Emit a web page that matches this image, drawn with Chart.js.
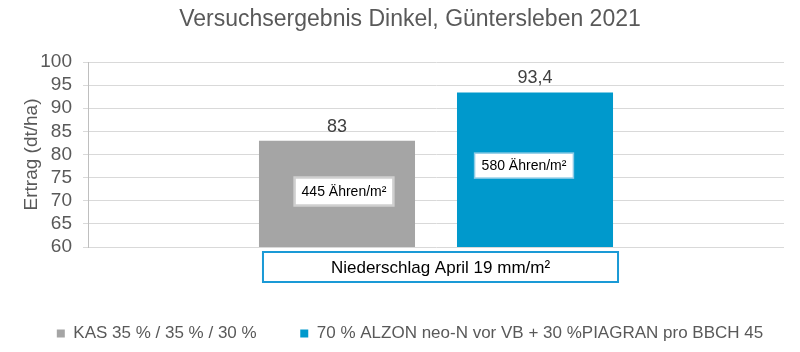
<!DOCTYPE html>
<html>
<head>
<meta charset="utf-8">
<script src="https://cdn.jsdelivr.net/npm/chart.js@4.4.0/dist/chart.umd.min.js"></script>
<style>
  html, body { margin: 0; padding: 0; background: #fff; }
  #wrap { width: 800px; height: 352px; }
</style>
</head>
<body>
<div id="wrap"><canvas id="yieldChart"></canvas></div>
<script>
// Chart data
const categories = [''];
const seriesNames = ['KAS 35 % / 35 % / 30 %', '70 % ALZON neo-N vor VB + 30 %PIAGRAN pro BBCH 45'];
const kasValues = [83];
const alzonValues = [93.4];
const valueLabels = ['83', '93,4'];
const earNotes = ['445 Ähren/m²', '580 Ähren/m²'];
const noteLevels = [72, 77.6];
const yTickValues = [60, 65, 70, 75, 80, 85, 90, 95, 100];
const rainNote = 'Niederschlag April 19 mm/m²';

const FONT = "'Liberation Sans', Arial, sans-serif";

// Draws value labels, ear count boxes and the rain note
const notesPlugin = {
    id: 'notes',
    afterDatasetsDraw(chart) {
        const ctx = chart.ctx;
        const yScale = chart.scales.y;
        const area = chart.chartArea;
        const shift = [7, -11]; // boxes sit a bit off the bar centre in the original
        const bars = [];
        chart.data.datasets.forEach((ds, i) => {
            const bar = chart.getDatasetMeta(i).data[0];
            bars.push(bar);

            ctx.save();
            ctx.font = '18px ' + FONT;
            ctx.fillStyle = '#404040';
            ctx.textAlign = 'center';
            ctx.textBaseline = 'bottom';
            ctx.fillText(valueLabels[i], bar.x, bar.y - 5);

            ctx.font = '14px ' + FONT;
            const w = ctx.measureText(earNotes[i]).width + 14;
            const h = i === 0 ? 28 : 25;
            const cx = bar.x + shift[i];
            const cy = yScale.getPixelForValue(noteLevels[i]);
            ctx.fillStyle = '#fff';
            ctx.fillRect(cx - w / 2, cy - h / 2, w, h);
            ctx.strokeStyle = i === 0 ? '#cfcfcf' : '#8ccbe6';
            ctx.lineWidth = i === 0 ? 2.5 : 1.5;
            ctx.strokeRect(cx - w / 2, cy - h / 2, w, h);
            ctx.fillStyle = '#000';
            ctx.textBaseline = 'middle';
            ctx.fillText(earNotes[i], cx, cy + 1);
            ctx.restore();
        });

        const left = bars[0].x - bars[0].width / 2 + 4;
        const right = bars[1].x + bars[1].width / 2 + 5;
        const top = area.bottom + 5;
        ctx.save();
        ctx.fillStyle = '#fff';
        ctx.fillRect(left, top, right - left, 30);
        ctx.strokeStyle = '#1a9ad6';
        ctx.lineWidth = 2;
        ctx.strokeRect(left, top, right - left, 30);
        ctx.font = '17px ' + FONT;
        ctx.fillStyle = '#000';
        ctx.textAlign = 'center';
        ctx.textBaseline = 'middle';
        ctx.fillText(rainNote, (left + right) / 2, top + 16);
        ctx.restore();
    }
};

const ctx = document.getElementById('yieldChart').getContext('2d');
new Chart(ctx, {
    type: 'bar',
    data: {
        labels: categories,
        datasets: [
            {
                label: seriesNames[0],
                data: kasValues,
                backgroundColor: '#a5a5a5',
                barPercentage: 0.788,
                categoryPercentage: 0.569
            },
            {
                label: seriesNames[1],
                data: alzonValues,
                backgroundColor: '#0099cc',
                barPercentage: 0.788,
                categoryPercentage: 0.569
            }
        ]
    },
    options: {
        responsive: true,
        maintainAspectRatio: false,
        animation: false,
        layout: {
            padding: { left: 36, right: 16, top: 0, bottom: 0 }
        },
        plugins: {
            title: {
                display: true,
                text: 'Versuchsergebnis Dinkel, Güntersleben 2021',
                color: '#595959',
                font: { family: FONT, size: 23, weight: 'normal' },
                padding: { top: 6, bottom: 28.4 }
            },
            legend: {
                position: 'bottom',
                labels: {
                    boxWidth: 8,
                    boxHeight: 8,
                    padding: 20,
                    color: '#595959',
                    font: { family: FONT, size: 17 },
                    generateLabels(chart) {
                        // extra trailing space widens the gap between the two entries
                        const items = Chart.defaults.plugins.legend.labels.generateLabels(chart);
                        items[0].text = items[0].text + '     ';
                        return items;
                    }
                }
            },
            tooltip: { enabled: false }
        },
        scales: {
            x: {
                grid: { display: false },
                border: { display: false },
                ticks: { display: false },
                afterFit(scale) { scale.height = 58; }
            },
            y: {
                min: 60,
                max: 100,
                afterBuildTicks(scale) {
                    scale.ticks = yTickValues.map(v => ({ value: v }));
                },
                afterFit(scale) { scale.width = 52; },
                grid: { color: '#d9d9d9', tickLength: 5 },
                border: { color: '#bfbfbf' },
                ticks: {
                    autoSkip: false,
                    color: '#595959',
                    font: { family: FONT, size: 19 },
                    padding: 11
                },
                title: {
                    display: true,
                    text: 'Ertrag (dt/ha)',
                    color: '#595959',
                    font: { family: FONT, size: 19 },
                    padding: { top: -16, bottom: 0 }
                }
            }
        }
    },
    plugins: [notesPlugin]
});
</script>
</body>
</html>
